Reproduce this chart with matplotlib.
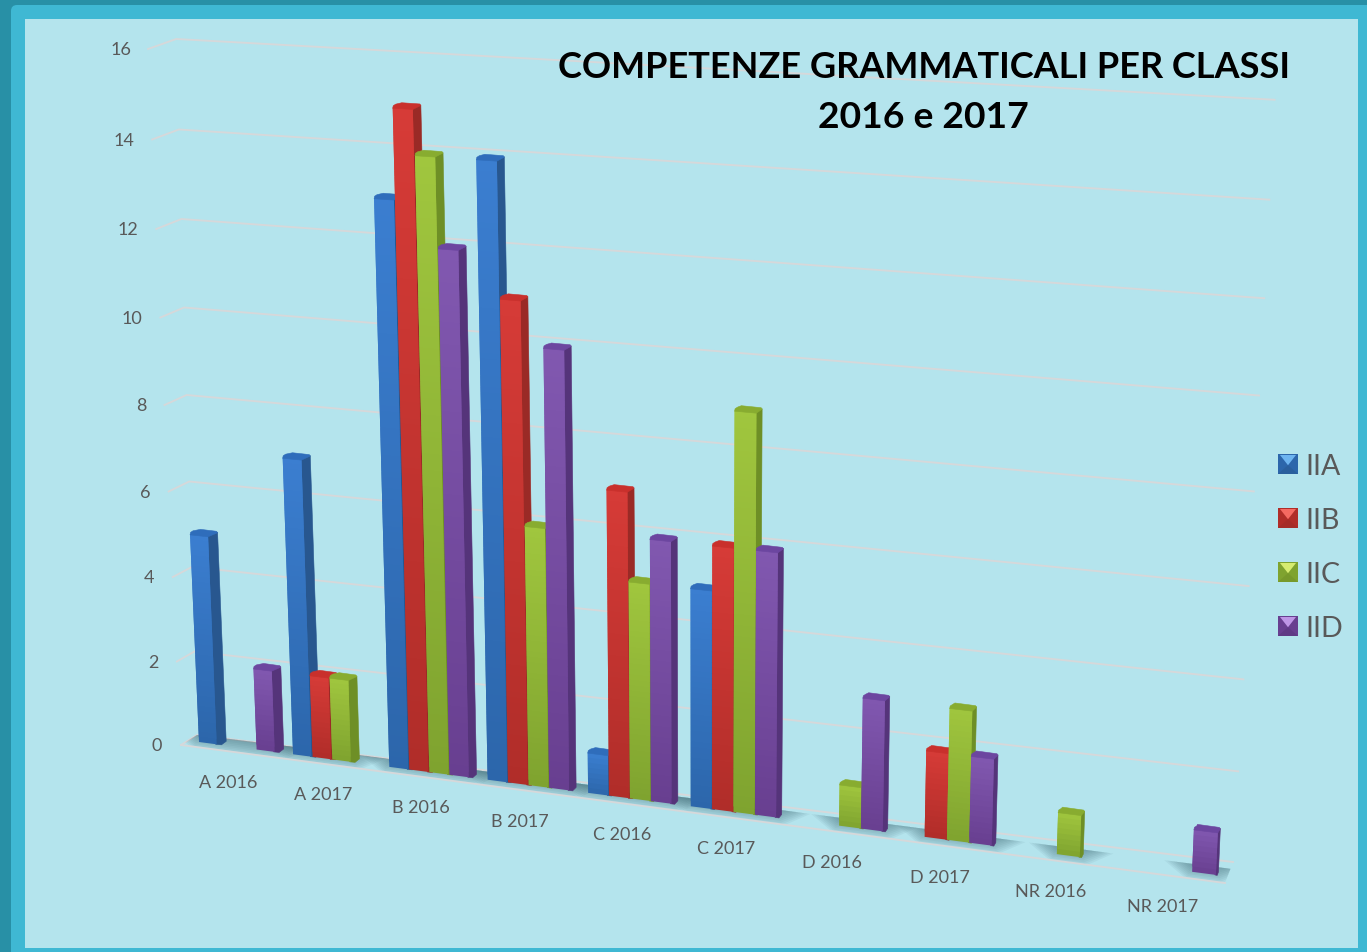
#!/usr/bin/env python3
"""Perspective bar chart of grammar skills per class, 2016 and 2017."""

import numpy as np
import matplotlib
matplotlib.use("Agg")
import matplotlib.pyplot as plt
from matplotlib.colors import to_rgb
from matplotlib.patches import FancyBboxPatch, Polygon, Rectangle

categories = ["A 2016", "A 2017", "B 2016", "B 2017", "C 2016",
              "C 2017", "D 2016", "D 2017", "NR 2016", "NR 2017"]
series_names = ["IIA", "IIB", "IIC", "IID"]
iia = [5, 7, 13, 14, 1, 5, 0, 0, 0, 0]
iib = [0, 2, 15, 11, 7, 6, 0, 2, 0, 0]
iic = [0, 2, 14, 6, 5, 9, 1, 3, 1, 0]
iid = [2, 0, 12, 10, 6, 6, 3, 2, 0, 1]
y_ticks = [0, 2, 4, 6, 8, 10, 12, 14, 16]
title_lines = ["COMPETENZE GRAMMATICALI PER CLASSI", "2016 e 2017"]

# top of bar, bottom of bar, side face, cap, legend highlight
palette = [
    ("#3B7ED0", "#2C66AB", "#28578F", "#2F6DBB", "#6DB4F0"),
    ("#D63B37", "#B02D29", "#9A2A26", "#C9302C", "#F56A62"),
    ("#A0C63E", "#7FA32F", "#6E8F26", "#88AC30", "#D6EC70"),
    ("#8158B0", "#683F90", "#55347A", "#6C46A0", "#BE96E6"),
]
GRID = "#D6D8DA"
TEXT = "#595959"
FONT = ["Lato", "DejaVu Sans"]
SLOT = 0.205
CAP_DROP = 0.07


def wall_left(v):
    return 41.5 * v + 0.125 * v * v


def wall_right(v):
    return 45.0 * v + 0.165 * v * v


def bar_x(p):
    return 199 + 93 * p + 1.07 * p * p


def base_y(x):
    return 742 + 0.1307 * (x - 199)


def project(p, v):
    """Chart position p (category units) and value v to picture pixels."""
    x0 = bar_x(p)
    rise = wall_left(v) * (1 + 0.01 * p)
    lean = 0.043 * (700 - x0) / 500
    return x0 - lean * rise, base_y(x0) - rise


def mix(c1, c2, t):
    a, b = np.array(to_rgb(c1)), np.array(to_rgb(c2))
    return tuple(a + (b - a) * t)


def draw_shadow(ax, p, width, floor):
    x0, x1 = bar_x(p), bar_x(p + width)
    for grow in np.linspace(1.0, 0.15, 9):
        spread = 28 * grow
        depth = 16 * grow
        pts = [
            (x0 - spread, base_y(x0 - spread) - 8),
            (x1 + spread + 6, base_y(x1 + spread + 6) - 8),
            (x1 + spread * 0.2, base_y(x1 + spread * 0.2) - 8 + depth),
            (x0 - spread * 0.2, base_y(x0 - spread * 0.2) - 8 + depth),
        ]
        patch = Polygon(pts, closed=True, fc="#3F6A75", ec="none", alpha=0.075, zorder=2)
        ax.add_patch(patch)
        patch.set_clip_path(floor)


def draw_bar(ax, p, value, colors, zorder):
    top_c, bottom_c, side_c, cap_c, _ = colors
    height = value - CAP_DROP
    width = 0.19 + 0.002 * p
    x0 = bar_x(p)
    depth = 9.5 - 7 * (x0 - 199) / 1000

    # side face first, the front covers its edge
    bx, by = project(p + width, 0)
    tx, ty = project(p + width, height)
    ax.add_patch(Polygon([(bx - 1, by), (tx - 1, ty), (tx + depth, ty - 4),
                          (bx + depth, by - 3), (bx + depth * 0.5, by + 0.5)],
                         closed=True, fc=side_c, ec=side_c, lw=0.4, zorder=zorder))

    # front face in strips for the gradient, each one just under the next
    steps = max(int(value * 8), 8)
    cuts = np.linspace(0, height, steps + 1)
    for i in range(steps):
        col = mix(bottom_c, top_c, (i + 0.5) / steps)
        end = cuts[min(i + 2, steps)]
        pts = [project(p, cuts[i]), project(p + width, cuts[i]),
               project(p + width, end), project(p, end)]
        ax.add_patch(Polygon(pts, closed=True, fc=col, ec="none", zorder=zorder, snap=False))

    # top cap with the corners cut
    lx, ly = project(p, height)
    ax.add_patch(Polygon([(lx, ly + 0.5), (lx + 0.5, ly - 2), (lx + 3, ly - 3.6),
                          (lx + depth + 1, ly - 5), (tx + depth - 1, ty - 5),
                          (tx + depth, ty - 3.5), (tx, ty + 0.5)],
                         closed=True, fc=cap_c, ec=cap_c, lw=0.4, zorder=zorder))


def draw_legend_key(ax, x, y, size, colors):
    top_c, bottom_c, side_c, _, light = colors
    cx, cy = x + size / 2, y + size * 0.56
    ax.add_patch(Rectangle((x, y), size, size, fc=bottom_c, ec="none", zorder=6))
    ax.add_patch(Polygon([(x, y + size), (cx, cy), (x + size, y + size)],
                         fc=mix(bottom_c, side_c, 0.5), ec="none", zorder=6))
    ax.add_patch(Polygon([(x + 2, y + 1), (x + size - 2, y + 1), (cx, cy)],
                         fc=light, ec="none", zorder=6))


def main():
    fig = plt.figure(figsize=(13.67, 9.52), dpi=100, facecolor="#2890A6")
    ax = fig.add_axes([0, 0, 1, 1])
    ax.set_xlim(0, 1367)
    ax.set_ylim(952, 0)
    ax.axis("off")

    # frame and panel
    ax.add_patch(FancyBboxPatch((11, 5), 1400, 1000, boxstyle="round,pad=0,rounding_size=6",
                                fc="#3FB8D3", ec="none", zorder=0))
    ax.add_patch(Rectangle((25, 19), 1333, 929, fc="#B4E4ED", ec="none", zorder=0.5))

    # wall grid with the short stub on the left wall
    for v in y_ticks:
        fold = (197 - 1.3 * v, 735 - wall_left(v))
        stub = (181 - 2.06 * v, 745 - wall_left(v))
        right = (1233 + 2.6 * v, 862 - wall_right(v))
        ax.plot([stub[0], fold[0], right[0]], [stub[1], fold[1], right[1]],
                color=GRID, lw=1.35, zorder=1, solid_joinstyle="round")
        ax.text(162 - 1.94 * v, 746 - wall_left(v), str(v), ha="right", va="center",
                fontsize=13, color=TEXT, family=FONT, zorder=7)
    # front edge of the floor
    ax.plot([181, 1225], [745, 883], color=GRID, lw=1.35, zorder=2.5)

    floor = Polygon([(181, 745), (197, 735), (1233, 862), (1225, 883)], closed=True,
                    transform=ax.transData)

    all_series = [iia, iib, iic, iid]
    for c in range(len(categories)):
        present = [s for s in range(4) if all_series[s][c] > 0]
        draw_shadow(ax, c + present[0] * SLOT, (present[-1] - present[0] + 1) * SLOT, floor)
    for c in range(len(categories)):
        for s in range(4):
            value = all_series[s][c]
            if value > 0:
                draw_bar(ax, c + s * SLOT, value, palette[s], 3 + c * 0.05 + s * 0.01)

    for c, name in enumerate(categories):
        x = bar_x(c + 0.31) + 0.6 * c
        ax.text(x, base_y(x) + 36.8 + 0.3 * c, name, ha="center", va="center",
                fontsize=13, color=TEXT, family=FONT, zorder=7)

    ax.text(924, 67, title_lines[0], ha="center", va="center", fontsize=26,
            fontweight="bold", color="black", family=FONT, zorder=8)
    ax.text(923.5, 117, title_lines[1], ha="center", va="center", fontsize=26.8,
            fontweight="bold", color="black", family=FONT, zorder=8)

    for s, name in enumerate(series_names):
        y = 464 + s * 54
        draw_legend_key(ax, 1278, y - 10, 20, palette[s])
        ax.text(1305, y + 3, name, ha="left", va="center", fontsize=20.5, color=TEXT,
                family=FONT, zorder=7)

    fig.savefig("out.png", dpi=100, facecolor=fig.get_facecolor())
    plt.close(fig)


if __name__ == "__main__":
    main()
